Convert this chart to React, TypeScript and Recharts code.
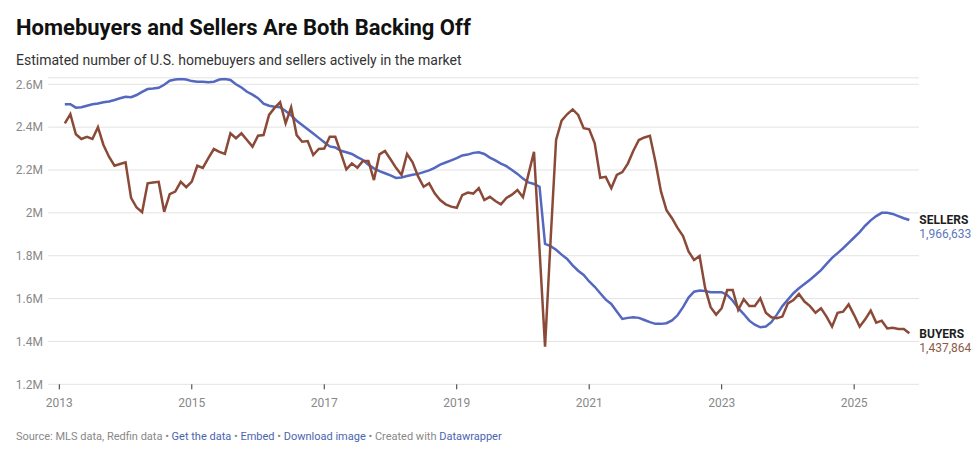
import { CartesianGrid, Line, LineChart, XAxis, YAxis } from "recharts"

// monthly estimates, millions, Feb 2013 .. Nov 2025
const sellers = [
  2.507, 2.507, 2.491, 2.493, 2.5, 2.507, 2.51, 2.516, 2.52, 2.527, 2.535, 2.542,
  2.54, 2.55, 2.565, 2.578, 2.58, 2.584, 2.598, 2.617, 2.622, 2.625, 2.622, 2.615,
  2.612, 2.612, 2.61, 2.612, 2.622, 2.625, 2.62, 2.6, 2.585, 2.565, 2.552, 2.535,
  2.51, 2.5, 2.495, 2.493, 2.475, 2.455, 2.43, 2.41, 2.39, 2.37, 2.35, 2.33,
  2.31, 2.305, 2.29, 2.283, 2.275, 2.26, 2.247, 2.225, 2.208, 2.195, 2.185, 2.175,
  2.163, 2.165, 2.172, 2.178, 2.182, 2.19, 2.198, 2.21, 2.225, 2.235, 2.245, 2.255,
  2.268, 2.272, 2.28, 2.283, 2.275, 2.258, 2.245, 2.23, 2.218, 2.2, 2.182, 2.16,
  2.142, 2.135, 2.122, 1.855, 1.845, 1.828, 1.805, 1.785, 1.755, 1.73, 1.71, 1.68,
  1.655, 1.625, 1.595, 1.575, 1.54, 1.505, 1.51, 1.513, 1.51, 1.5, 1.49, 1.482,
  1.482, 1.485, 1.498, 1.522, 1.56, 1.605, 1.632, 1.638, 1.635, 1.63, 1.63, 1.63,
  1.617, 1.59, 1.555, 1.528, 1.497, 1.478, 1.466, 1.47, 1.49, 1.525, 1.565, 1.595,
  1.625, 1.648, 1.668, 1.688, 1.71, 1.733, 1.762, 1.79, 1.812, 1.835, 1.86, 1.885,
  1.91, 1.94, 1.965, 1.985, 2.0, 2.0, 1.995, 1.985, 1.975, 1.966633,
]

const buyers = [
  2.418, 2.461, 2.367, 2.345, 2.355, 2.345, 2.4, 2.317, 2.262, 2.22, 2.228, 2.236,
  2.07, 2.025, 2.003, 2.138, 2.142, 2.145, 2.005, 2.087, 2.099, 2.145, 2.12, 2.146,
  2.22, 2.21, 2.255, 2.298, 2.285, 2.275, 2.371, 2.348, 2.371, 2.34, 2.309, 2.36,
  2.363, 2.457, 2.49, 2.516, 2.418, 2.493, 2.363, 2.332, 2.335, 2.27, 2.298, 2.3,
  2.355, 2.355, 2.28, 2.203, 2.231, 2.211, 2.242, 2.242, 2.153, 2.273, 2.289, 2.25,
  2.21, 2.177, 2.275, 2.236, 2.17, 2.122, 2.138, 2.091, 2.06, 2.04, 2.029, 2.024,
  2.083, 2.095, 2.09, 2.115, 2.06, 2.075, 2.055, 2.04, 2.07, 2.085, 2.107, 2.073,
  2.181, 2.285, 1.83, 1.376, 1.87, 2.34, 2.43, 2.46, 2.483, 2.457, 2.395, 2.39,
  2.325, 2.164, 2.168, 2.115, 2.177, 2.19, 2.23, 2.29, 2.34, 2.352, 2.36, 2.239,
  2.1, 2.013, 1.975, 1.93, 1.892, 1.82, 1.78, 1.799, 1.65, 1.56, 1.525, 1.555,
  1.64, 1.64, 1.547, 1.597, 1.565, 1.565, 1.601, 1.534, 1.513, 1.508, 1.516, 1.578,
  1.593, 1.621, 1.586, 1.565, 1.534, 1.555, 1.516, 1.469, 1.534, 1.539, 1.573, 1.523,
  1.469, 1.503, 1.544, 1.488, 1.497, 1.461, 1.464, 1.458, 1.458, 1.437864,
]

const firstYear = 2013
const firstMonthIndex = 1 // Feb
const yearTicks = [2013, 2015, 2017, 2019, 2021, 2023, 2025]
const valueTicks = [1.2, 1.4, 1.6, 1.8, 2, 2.2, 2.4, 2.6]

const SELLERS_COLOR = "#5468bf"
const BUYERS_COLOR = "#8b4a38"

const data = sellers.map((s, i) => ({
  t: firstMonthIndex + i,
  sellers: s,
  buyers: buyers[i],
}))

const lastIndex = data.length - 1

const formatCount = (v: number) => Math.round(v * 1e6).toLocaleString("en-US")

function makeEndLabel(name: string, color: string) {
  return (props: any) => {
    const { x, y, index, value } = props
    if (index !== lastIndex) return null
    return (
      <g>
        <text x={x + 10} y={y} dy={4.3} fontSize={12} fontWeight={700} fill="#1d1d1d">
          {name}
        </text>
        <text x={x + 10} y={y} dy={18.2} fontSize={12} fill={color}>
          {formatCount(value)}
        </text>
      </g>
    )
  }
}

const linkStyle = { color: "#4a64b0" }

export default function App() {
  return (
    <div
      style={{
        position: "relative",
        width: 977,
        height: 453,
        fontFamily: "Roboto, sans-serif",
        background: "#fff",
      }}
    >
      <style>{`body { margin: 0; }`}</style>
      <div
        style={{
          position: "absolute",
          left: 16,
          top: 16.5,
          fontSize: 22,
          lineHeight: 1,
          fontWeight: 700,
          color: "#111",
          whiteSpace: "nowrap",
        }}
      >
        Homebuyers and Sellers Are Both Backing Off
      </div>
      <div
        style={{
          position: "absolute",
          left: 16,
          top: 52.5,
          fontSize: 14,
          lineHeight: 1,
          color: "#333",
          whiteSpace: "nowrap",
        }}
      >
        Estimated number of U.S. homebuyers and sellers actively in the market
      </div>

      <div style={{ position: "absolute", left: 0, top: 0 }}>
        <LineChart
          width={977}
          height={453}
          data={data}
          margin={{ top: 77.87, right: 58, bottom: 38.7, left: 0 }}
          style={{ fontFamily: "Roboto, sans-serif" }}
        >
          <CartesianGrid stroke="#e3e3e3" vertical={false} />
          <XAxis
            dataKey="t"
            type="number"
            domain={[-2.05, 155.75]}
            allowDataOverflow
            height={30}
            ticks={yearTicks.map((y) => (y - firstYear) * 12)}
            tickFormatter={(t) => String(firstYear + t / 12)}
            axisLine={false}
            tickLine={{ stroke: "#333" }}
            tickSize={5}
            tickMargin={9}
            tick={{ fill: "#888", fontSize: 12 }}
          />
          <YAxis
            type="number"
            domain={[1.2, 2.63]}
            allowDataOverflow
            ticks={valueTicks}
            tickFormatter={(v) => `${v}M`}
            axisLine={false}
            tickLine={false}
            tickSize={0}
            tickMargin={5}
            width={48}
            tick={{ fill: "#888", fontSize: 12 }}
          />
          <Line
            type="linear"
            dataKey="sellers"
            stroke={SELLERS_COLOR}
            strokeWidth={2.5}
            dot={false}
            isAnimationActive={false}
            label={makeEndLabel("SELLERS", "#5d78bd")}
          />
          <Line
            type="linear"
            dataKey="buyers"
            stroke={BUYERS_COLOR}
            strokeWidth={2.5}
            dot={false}
            isAnimationActive={false}
            label={makeEndLabel("BUYERS", "#8e5a48")}
          />
        </LineChart>
      </div>

      <div
        style={{
          position: "absolute",
          left: 16,
          top: 430.7,
          fontSize: 11,
          lineHeight: 1,
          color: "#888",
          whiteSpace: "nowrap",
        }}
      >
        Source: MLS data, Redfin data • <span style={linkStyle}>Get the data</span> •{" "}
        <span style={linkStyle}>Embed</span> • <span style={linkStyle}>Download image</span> •
        Created with <span style={linkStyle}>Datawrapper</span>
      </div>
    </div>
  )
}
